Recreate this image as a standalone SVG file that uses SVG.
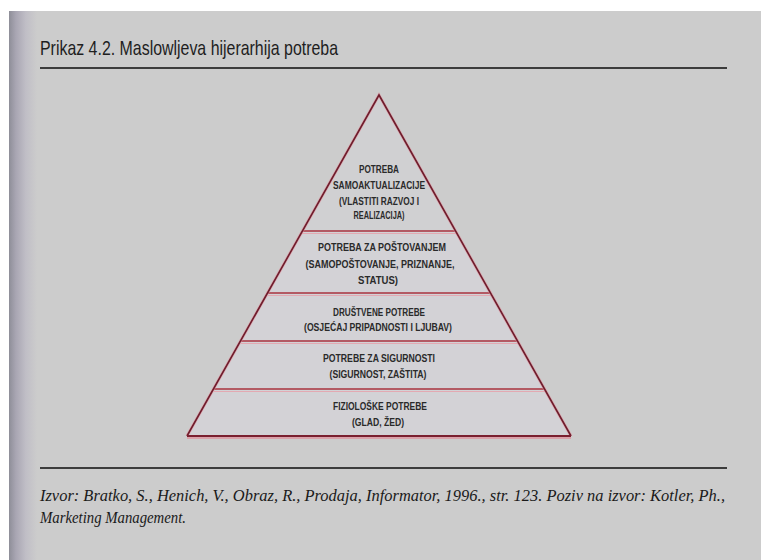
<svg xmlns="http://www.w3.org/2000/svg" width="761" height="560" viewBox="0 0 761 560">
  <defs>
    <linearGradient id="strip" x1="0" y1="0" x2="1" y2="0">
      <stop offset="0" stop-color="#8e8e98"/>
      <stop offset="0.25" stop-color="#a9a6b3"/>
      <stop offset="0.6" stop-color="#c0bec6"/>
      <stop offset="1" stop-color="#cccccc"/>
    </linearGradient>
    <style>
      .lbl { font-family: "Liberation Sans", Arial, sans-serif; font-size: 11.5px; font-weight: bold; fill: #2a2a2a; text-anchor: middle; }
      .halo { stroke: #e2909c; stroke-width: 3; fill: none; opacity: 0.6; }
      .edge { stroke: #6e1d2c; stroke-width: 1.6; fill: none; }
      .band { stroke: #a8323e; stroke-width: 1.6; }
      .bandhalo { stroke: #e8a0aa; stroke-width: 1.2; opacity: 0.8; }
      .rule { stroke: #3c3c3c; stroke-width: 2; }
      .cite { font-family: "Liberation Serif", "Times New Roman", serif; font-style: italic; font-size: 17px; fill: #1a1a1a; }
    </style>
  </defs>

  <!-- page -->
  <rect x="0" y="0" width="761" height="560" fill="#ffffff"/>
  <rect x="9" y="11" width="752" height="549" fill="#cccccc"/>
  <rect x="9" y="11" width="28" height="549" fill="url(#strip)"/>

  <!-- title -->
  <text x="40" y="55" font-family="'Liberation Sans', Arial, sans-serif" font-size="21" fill="#1e1e1e" textLength="298" lengthAdjust="spacingAndGlyphs">Prikaz 4.2. Maslowljeva hijerarhija potreba</text>
  <line class="rule" x1="40" y1="68" x2="727" y2="68"/>

  <!-- pyramid body -->
  <g id="pyramid-frame">
    <polygon points="379,95 571,436 187,436" fill="#d3d2d6"/>
    <polygon points="379,95 455.6,231 302.4,231" fill="#d0d0d2"/>
  </g>

  <g id="connectors">
    <!-- band dividers -->
    <line class="bandhalo" x1="302" y1="233.5" x2="456" y2="233.5"/>
    <line class="band" x1="302.4" y1="231" x2="455.6" y2="231"/>
    <line class="bandhalo" x1="268" y1="295.5" x2="491" y2="295.5"/>
    <line class="band" x1="267.5" y1="293" x2="490.5" y2="293"/>
    <line class="bandhalo" x1="241" y1="343.5" x2="518" y2="343.5"/>
    <line class="band" x1="240.5" y1="341" x2="517.5" y2="341"/>
    <line class="bandhalo" x1="214" y1="391.5" x2="545" y2="391.5"/>
    <line class="band" x1="213.5" y1="389" x2="544.5" y2="389"/>
    <!-- outline -->
    <polyline class="halo" points="187,436 379,95 571,436"/>
    <polyline class="edge" points="187,436 379,95 571,436"/>
    <line x1="187" y1="437" x2="571" y2="437" stroke="#e0909c" stroke-width="4" opacity="0.7"/>
    <line x1="187" y1="436" x2="571" y2="436" stroke="#7a2030" stroke-width="2.2"/>
  </g>

  <g id="level-5-self-actualization">
    <text class="lbl" x="379" y="173" textLength="40" lengthAdjust="spacingAndGlyphs">POTREBA</text>
    <text class="lbl" x="379" y="189" textLength="92" lengthAdjust="spacingAndGlyphs">SAMOAKTUALIZACIJE</text>
    <text class="lbl" x="379" y="205" textLength="80" lengthAdjust="spacingAndGlyphs">(VLASTITI RAZVOJ I</text>
    <text class="lbl" x="379" y="219" textLength="51" lengthAdjust="spacingAndGlyphs">REALIZACIJA)</text>
  </g>

  <g id="level-4-esteem">
    <text class="lbl" x="382" y="251" textLength="128" lengthAdjust="spacingAndGlyphs">POTREBA ZA POŠTOVANJEM</text>
    <text class="lbl" x="380" y="268" textLength="149" lengthAdjust="spacingAndGlyphs">(SAMOPOŠTOVANJE, PRIZNANJE,</text>
    <text class="lbl" x="378" y="284" textLength="40" lengthAdjust="spacingAndGlyphs">STATUS)</text>
  </g>

  <g id="level-3-social">
    <text class="lbl" x="379" y="316" textLength="92" lengthAdjust="spacingAndGlyphs">DRUŠTVENE POTREBE</text>
    <text class="lbl" x="378" y="331" textLength="148" lengthAdjust="spacingAndGlyphs">(OSJEĆAJ PRIPADNOSTI I LJUBAV)</text>
  </g>

  <g id="level-2-safety">
    <text class="lbl" x="379" y="362" textLength="112" lengthAdjust="spacingAndGlyphs">POTREBE ZA SIGURNOSTI</text>
    <text class="lbl" x="378" y="378" textLength="97" lengthAdjust="spacingAndGlyphs">(SIGURNOST, ZAŠTITA)</text>
  </g>

  <g id="level-1-physiological">
    <text class="lbl" x="380" y="410" textLength="94" lengthAdjust="spacingAndGlyphs">FIZIOLOŠKE POTREBE</text>
    <text class="lbl" x="378" y="426" textLength="52" lengthAdjust="spacingAndGlyphs">(GLAD, ŽED)</text>
  </g>

  <!-- source -->
  <line class="rule" x1="40" y1="468" x2="727" y2="468"/>
  <text class="cite" x="40" y="501" textLength="685" lengthAdjust="spacingAndGlyphs">Izvor: Bratko, S., Henich, V., Obraz, R., Prodaja, Informator, 1996., str. 123. Poziv na izvor: Kotler, Ph.,</text>
  <text class="cite" x="40" y="523" textLength="146" lengthAdjust="spacingAndGlyphs">Marketing Management.</text>
</svg>
